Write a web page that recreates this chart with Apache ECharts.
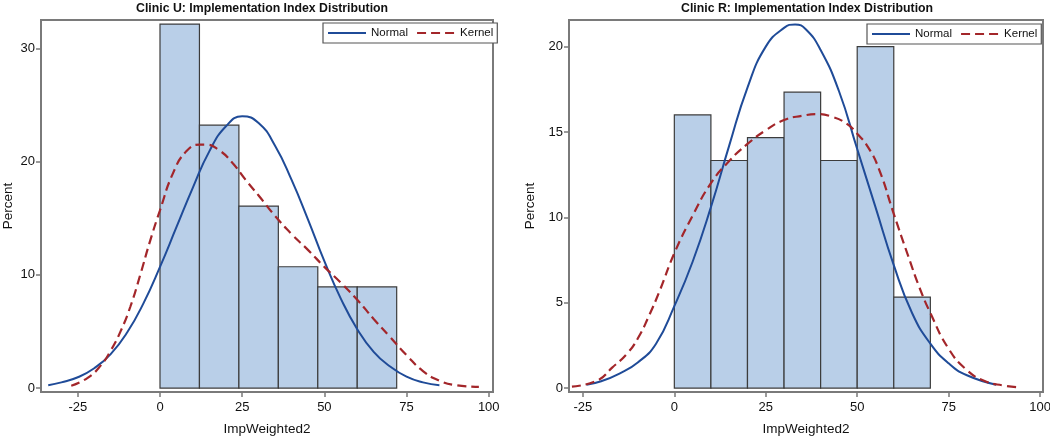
<!DOCTYPE html>
<html>
<head>
<meta charset="utf-8">
<script src="https://cdn.jsdelivr.net/npm/echarts@6/dist/echarts.min.js"></script>
<style>
html,body{margin:0;padding:0;background:#fff;}
#chart{width:1050px;height:438px;}
</style>
</head>
<body>
<div id="chart"></div>
<script>
// ---------- Data ----------
const titles = ['Clinic U: Implementation Index Distribution', 'Clinic R: Implementation Index Distribution'];
const xAxisName = 'ImpWeighted2';
const yAxisName = 'Percent';
const legendNames = ['Normal', 'Kernel'];

const xTicks = [-25, 0, 25, 50, 75, 100];
const uYTicks = [0, 10, 20, 30];
const rYTicks = [0, 5, 10, 15, 20];

// Clinic U histogram (bin lower / upper bounds, percent)
const uBinLo = [0, 12, 24, 36, 48, 60];
const uBinHi = [12, 24, 36, 48, 60, 72];
const uPercent = [32.14, 23.21, 16.07, 10.71, 8.93, 8.93];

// Clinic U fitted curves
const uNormalX = [-34, -30, -25, -20, -15, -10, -5, 0, 5, 10, 15, 20, 25, 30, 35, 40, 45, 50, 55, 60, 65, 70, 75, 80, 85];
const uNormalY = [0.25, 0.5, 0.95, 1.75, 3.0, 4.9, 7.5, 10.7, 14.2, 17.7, 20.9, 23.1, 24.0, 23.4, 21.4, 18.4, 14.9, 11.2, 7.9, 5.2, 3.2, 1.9, 1.0, 0.5, 0.25];
const uKernelX = [-27, -22, -18, -15, -12, -9, -6, -3, 0, 4, 8, 12, 14, 18, 22, 26, 30, 35, 40, 45, 50, 55, 60, 65, 70, 75, 80, 85, 90, 97];
const uKernelY = [0.2, 0.9, 2.0, 3.3, 5.0, 7.2, 10.0, 13.0, 15.7, 19.0, 20.9, 21.5, 21.5, 21.0, 19.9, 18.4, 17.0, 15.2, 13.6, 12.2, 10.7, 9.3, 7.8, 6.1, 4.5, 2.9, 1.5, 0.65, 0.25, 0.1];

// Clinic R histogram
const rBinLo = [0, 10, 20, 30, 40, 50, 60];
const rBinHi = [10, 20, 30, 40, 50, 60, 70];
const rPercent = [16.00, 13.33, 14.67, 17.33, 13.33, 20.00, 5.33];

// Clinic R fitted curves
const rNormalX = [-24, -20, -15, -10, -5, 0, 5, 10, 15, 20, 25, 30, 33, 36, 40, 45, 50, 55, 60, 65, 70, 75, 80, 88];
const rNormalY = [0.2, 0.4, 0.85, 1.5, 2.6, 4.8, 7.4, 10.6, 14.2, 17.6, 20.0, 21.1, 21.3, 21.0, 19.8, 17.4, 14.0, 10.6, 7.2, 4.4, 2.6, 1.45, 0.75, 0.2];
const rKernelX = [-28, -21, -17, -13, -10, -7, -4, 0, 5, 10, 15, 20, 25, 30, 35, 39, 43, 47, 50, 53, 56, 60, 64, 67, 70, 75, 80, 85, 90, 94];
const rKernelY = [0.08, 0.45, 1.2, 2.0, 2.9, 4.2, 5.7, 7.9, 10.1, 12.0, 13.3, 14.3, 15.1, 15.7, 15.95, 16.05, 15.9, 15.5, 14.9, 14.1, 12.8, 10.2, 7.7, 5.9, 4.4, 2.3, 1.05, 0.4, 0.15, 0.05];

// ---------- Styles ----------
const FONT = "'Liberation Sans', Arial, sans-serif";
const FRAME = '#7a7a7a';
const TEXT = '#111';
const BAR_FILL = '#B9CFE8';
const BAR_EDGE = '#3c3c3c';
const NORMAL_COLOR = '#1F4B98';
const KERNEL_COLOR = '#A3262A';

function zip(xs, ys) { return xs.map((x, i) => [x, ys[i]]); }
function bins(lo, hi, p) { return lo.map((l, i) => [l, hi[i], p[i]]); }

function histRender(params, api) {
  const p0 = api.coord([api.value(0), api.value(2)]);
  const p1 = api.coord([api.value(1), 0]);
  return {
    type: 'rect',
    shape: { x: p0[0], y: p0[1], width: p1[0] - p0[0], height: p1[1] - p0[1] },
    style: { fill: BAR_FILL, stroke: BAR_EDGE, lineWidth: 1.2 }
  };
}

function xAxisCfg(gridIndex, min, max) {
  return {
    gridIndex, type: 'value', min, max,
    name: xAxisName, nameLocation: 'middle', nameGap: 30,
    nameTextStyle: { fontFamily: FONT, fontSize: 13.5, color: TEXT },
    axisLine: { show: true, onZero: false, lineStyle: { color: FRAME, width: 2 } },
    axisTick: { show: true, inside: false, length: 5, customValues: xTicks, lineStyle: { color: FRAME, width: 1.5 } },
    axisLabel: { customValues: xTicks, fontFamily: FONT, fontSize: 13, color: TEXT, margin: 9 },
    splitLine: { show: false }
  };
}
function yAxisCfg(gridIndex, min, max, ticks, gap) {
  return {
    gridIndex, type: 'value', min, max,
    name: yAxisName, nameLocation: 'middle', nameGap: gap,
    nameTextStyle: { fontFamily: FONT, fontSize: 13.5, color: TEXT },
    axisLine: { show: true, onZero: false, lineStyle: { color: FRAME, width: 2 } },
    axisTick: { show: true, inside: false, length: 5, customValues: ticks, lineStyle: { color: FRAME, width: 1.5 } },
    axisLabel: { customValues: ticks, fontFamily: FONT, fontSize: 13, color: TEXT, margin: 6 },
    splitLine: { show: false }
  };
}
function legendCfg(left, top) {
  return {
    left, top, orient: 'horizontal',
    data: legendNames,
    itemWidth: 38, itemHeight: 10, itemGap: 8,
    padding: [4, 4],
    borderColor: '#555', borderWidth: 1.2,
    backgroundColor: '#fff',
    itemStyle: { opacity: 0 },
    textStyle: { fontFamily: FONT, fontSize: 11.5, color: TEXT },
    selectedMode: false
  };
}

const chart = echarts.init(document.getElementById('chart'), null, { renderer: 'canvas' });
chart.setOption({
  animation: false,
  backgroundColor: '#fff',
  title: [
    { text: titles[0], left: 136, top: 3, padding: 0, textStyle: { fontFamily: FONT, fontSize: 12.3, fontWeight: 'bold', color: TEXT } },
    { text: titles[1], left: 681, top: 3, padding: 0, textStyle: { fontFamily: FONT, fontSize: 12.3, fontWeight: 'bold', color: TEXT } }
  ],
  legend: [legendCfg(323, 23), legendCfg(867, 24)],
  grid: [
    { left: 41, top: 20, width: 452, height: 372, show: true, borderColor: FRAME, borderWidth: 2, containLabel: false, outerBoundsMode: 'none' },
    { left: 569, top: 20, width: 474, height: 372, show: true, borderColor: FRAME, borderWidth: 2, containLabel: false, outerBoundsMode: 'none' }
  ],
  xAxis: [xAxisCfg(0, -36.2, 101.3), xAxisCfg(1, -28.8, 100.8)],
  yAxis: [yAxisCfg(0, -0.35, 32.5, uYTicks, 26), yAxisCfg(1, -0.23, 21.56, rYTicks, 32)],
  series: [
    { type: 'custom', name: 'U histogram', xAxisIndex: 0, yAxisIndex: 0, renderItem: histRender, data: bins(uBinLo, uBinHi, uPercent), encode: { x: [0, 1], y: 2 }, z: 1 },
    { type: 'line', name: 'Normal', xAxisIndex: 0, yAxisIndex: 0, data: zip(uNormalX, uNormalY), smooth: true, symbol: 'none', lineStyle: { color: NORMAL_COLOR, width: 2 }, itemStyle: { color: NORMAL_COLOR }, z: 3 },
    { type: 'line', name: 'Kernel', xAxisIndex: 0, yAxisIndex: 0, data: zip(uKernelX, uKernelY), smooth: true, symbol: 'none', lineStyle: { color: KERNEL_COLOR, width: 2.2, type: [9, 5] }, itemStyle: { color: KERNEL_COLOR }, z: 3 },
    { type: 'custom', name: 'R histogram', xAxisIndex: 1, yAxisIndex: 1, renderItem: histRender, data: bins(rBinLo, rBinHi, rPercent), encode: { x: [0, 1], y: 2 }, z: 1 },
    { type: 'line', name: 'Normal', xAxisIndex: 1, yAxisIndex: 1, data: zip(rNormalX, rNormalY), smooth: true, symbol: 'none', lineStyle: { color: NORMAL_COLOR, width: 2 }, itemStyle: { color: NORMAL_COLOR }, z: 3 },
    { type: 'line', name: 'Kernel', xAxisIndex: 1, yAxisIndex: 1, data: zip(rKernelX, rKernelY), smooth: true, symbol: 'none', lineStyle: { color: KERNEL_COLOR, width: 2.2, type: [9, 5] }, itemStyle: { color: KERNEL_COLOR }, z: 3 }
  ]
});
</script>
</body>
</html>
